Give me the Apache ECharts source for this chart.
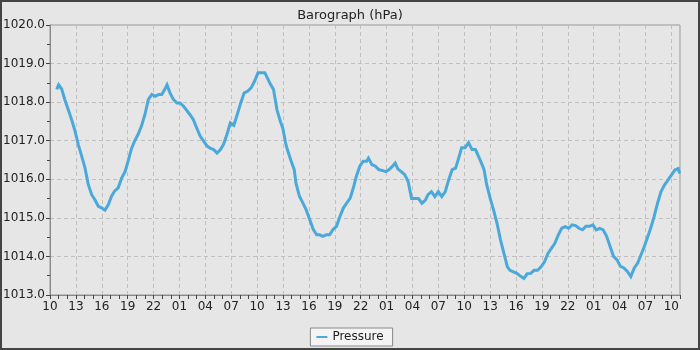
<!DOCTYPE html>
<html>
<head>
<meta charset="utf-8">
<title>Barograph</title>
<script src="https://cdn.jsdelivr.net/npm/echarts@6.0.0/dist/echarts.min.js"></script>
<style>
    body{margin:0;background:#e6e6e6;}
    #chart{width:700px;height:350px;}
</style>
</head>
<body>
<div id="chart"></div>
<script>
// hours since 10:00 on the first day
var startHour = 10;
var hours = [0.78,1.0,1.35,1.74,2.12,2.5,2.9,3.28,3.67,4.05,4.44,4.83,5.2,5.6,5.98,6.37,6.75,7.13,7.5,7.9,
    8.3,8.7,9.05,9.45,9.8,10.2,10.6,11.0,11.4,11.8,12.2,12.6,12.94,13.3,13.56,13.9,14.3,14.7,15.06,15.45,
    15.8,16.2,16.6,17.0,17.4,17.8,18.2,18.6,18.97,19.36,19.75,20.1,20.5,20.9,21.3,21.7,22.1,22.5,22.9,23.3,
    23.7,24.1,24.5,24.9,25.1,25.5,25.9,26.1,26.3,26.7,27.0,27.3,27.5,27.9,28.3,28.5,28.9,29.3,29.7,30.1,
    30.5,30.9,31.25,31.6,32.0,32.4,32.8,33.2,33.6,34.0,34.4,34.8,35.2,35.5,35.9,36.3,36.7,36.9,37.3,37.7,
    38.1,38.5,38.9,39.3,39.7,40.0,40.3,40.7,41.1,41.5,41.7,41.9,42.3,42.7,43.1,43.5,43.8,44.2,44.6,45.0,
    45.4,45.8,46.2,46.6,47.0,47.3,47.7,48.1,48.5,48.9,49.3,49.5,49.9,50.3,50.6,51.0,51.4,51.8,52.2,52.6,
    53.0,53.3,53.7,54.1,54.5,54.9,55.3,55.7,56.1,56.5,56.9,57.3,57.7,58.1,58.5,58.9,59.3,59.7,60.1,60.5,
    60.9,61.3,61.7,62.1,62.5,62.9,63.3,63.7,64.1,64.5,64.9,65.3,65.7,66.1,66.5,66.9,67.3,67.7,68.1,68.4,
    68.8,69.2,69.6,70.0,70.4,70.8,71.2,71.6,72.0,72.4,72.8,72.95];
var pressure = [1018.33,1018.45,1018.34,1018.05,1017.8,1017.55,1017.25,1016.9,1016.6,1016.3,1015.86,1015.6,1015.47,1015.3,1015.26,1015.2,1015.34,1015.56,1015.7,1015.78,
    1016.03,1016.2,1016.47,1016.8,1016.99,1017.16,1017.38,1017.68,1018.07,1018.2,1018.15,1018.2,1018.2,1018.33,1018.45,1018.24,1018.07,1017.98,1017.98,1017.9,
    1017.8,1017.68,1017.55,1017.33,1017.12,1016.99,1016.86,1016.8,1016.77,1016.68,1016.77,1016.9,1017.16,1017.46,1017.4,1017.68,1017.98,1018.24,1018.28,1018.37,
    1018.54,1018.76,1018.76,1018.76,1018.67,1018.48,1018.33,1018.07,1017.8,1017.5,1017.3,1016.94,1016.77,1016.5,1016.25,1015.9,1015.56,1015.39,1015.2,1014.95,
    1014.7,1014.56,1014.56,1014.52,1014.56,1014.56,1014.7,1014.78,1015.04,1015.26,1015.39,1015.52,1015.82,1016.08,1016.34,1016.47,1016.47,1016.55,1016.38,1016.34,
    1016.25,1016.23,1016.2,1016.25,1016.34,1016.42,1016.27,1016.2,1016.12,1015.94,1015.72,1015.5,1015.5,1015.5,1015.38,1015.46,1015.6,1015.68,1015.55,1015.68,
    1015.55,1015.68,1015.99,1016.25,1016.29,1016.51,1016.82,1016.82,1016.95,1016.77,1016.77,1016.77,1016.47,1016.25,1015.86,1015.51,1015.2,1014.86,1014.43,1014.08,
    1013.73,1013.64,1013.6,1013.56,1013.49,1013.43,1013.55,1013.56,1013.64,1013.64,1013.73,1013.86,1014.08,1014.21,1014.34,1014.56,1014.73,1014.77,1014.73,1014.82,
    1014.8,1014.73,1014.69,1014.78,1014.78,1014.82,1014.69,1014.73,1014.69,1014.52,1014.26,1014.0,1013.91,1013.74,1013.7,1013.61,1013.48,1013.7,1013.83,1014.0,
    1014.22,1014.47,1014.73,1015.03,1015.38,1015.68,1015.85,1015.98,1016.11,1016.24,1016.28,1016.15];

var myChart = echarts.init(document.getElementById('chart'));

function buildOption(){
    var points = [];
    for(var i=0;i<hours.length;i++){
        points.push([hours[i], pressure[i]]);
    }
    var option = {
        animation: false,
        backgroundColor: '#e6e6e6',
        textStyle: {fontFamily: 'DejaVu Sans'},
        title: {
            text: 'Barograph (hPa)',
            left: 'center',
            top: 4,
            textStyle: {fontSize: 13, fontWeight: 'normal', color: '#222', fontFamily: 'DejaVu Sans'}
        },
        grid: {
            left: 50, right: 20, top: 25, bottom: 55,
            show: true,
            borderColor: '#999',
            borderWidth: 1,
            backgroundColor: 'transparent'
        },
        xAxis: {
            type: 'value',
            min: 0,
            max: 73,
            interval: 3,
            axisLine: {lineStyle: {color: '#888'}},
            axisTick: {length: 4, lineStyle: {color: '#444'}},
            minorTick: {show: true, splitNumber: 3, length: 4, lineStyle: {color: '#444'}},
            axisLabel: {
                margin: 6,
                color: '#222',
                fontSize: 12,
                showMaxLabel: false,
                formatter: function(v){
                    var h = (startHour + v) % 24;
                    return (h < 10 ? '0' : '') + h;
                }
            },
            splitLine: {show: true, lineStyle: {color: '#c0c0c0', type: [4, 3]}}
        },
        yAxis: {
            type: 'value',
            min: 1013,
            max: 1020,
            interval: 1,
            axisLine: {show: true, lineStyle: {color: '#888'}},
            axisTick: {show: true, length: 4, lineStyle: {color: '#444'}},
            minorTick: {show: true, splitNumber: 2, length: 3, lineStyle: {color: '#444'}},
            axisLabel: {
                margin: 5,
                color: '#222',
                fontSize: 12,
                formatter: function(v){ return v.toFixed(1); }
            },
            splitLine: {show: true, lineStyle: {color: '#c0c0c0', type: [4, 3]}}
        },
        legend: {
            data: ['Pressure'],
            left: 'center',
            top: 328,
            backgroundColor: '#f4f4f4',
            borderColor: '#888',
            borderWidth: 1,
            borderRadius: 0,
            padding: [3, 9, 3, 6],
            icon: 'rect',
            itemWidth: 11,
            itemHeight: 2,
            itemGap: 10,
            textStyle: {fontSize: 12, color: '#222', fontFamily: 'DejaVu Sans'}
        },
        graphic: [{
            type: 'rect',
            shape: {x: 1, y: 1, width: 698, height: 348},
            style: {fill: 'none', stroke: '#444', lineWidth: 2},
            silent: true
        }],
        series: [{
            name: 'Pressure',
            type: 'line',
            showSymbol: false,
            color: '#4aa9da',
            lineStyle: {width: 3, color: '#4aa9da', join: 'miter'},
            data: points
        }]
    };
    return option;
}

myChart.setOption(buildOption());
</script>
</body>
</html>
